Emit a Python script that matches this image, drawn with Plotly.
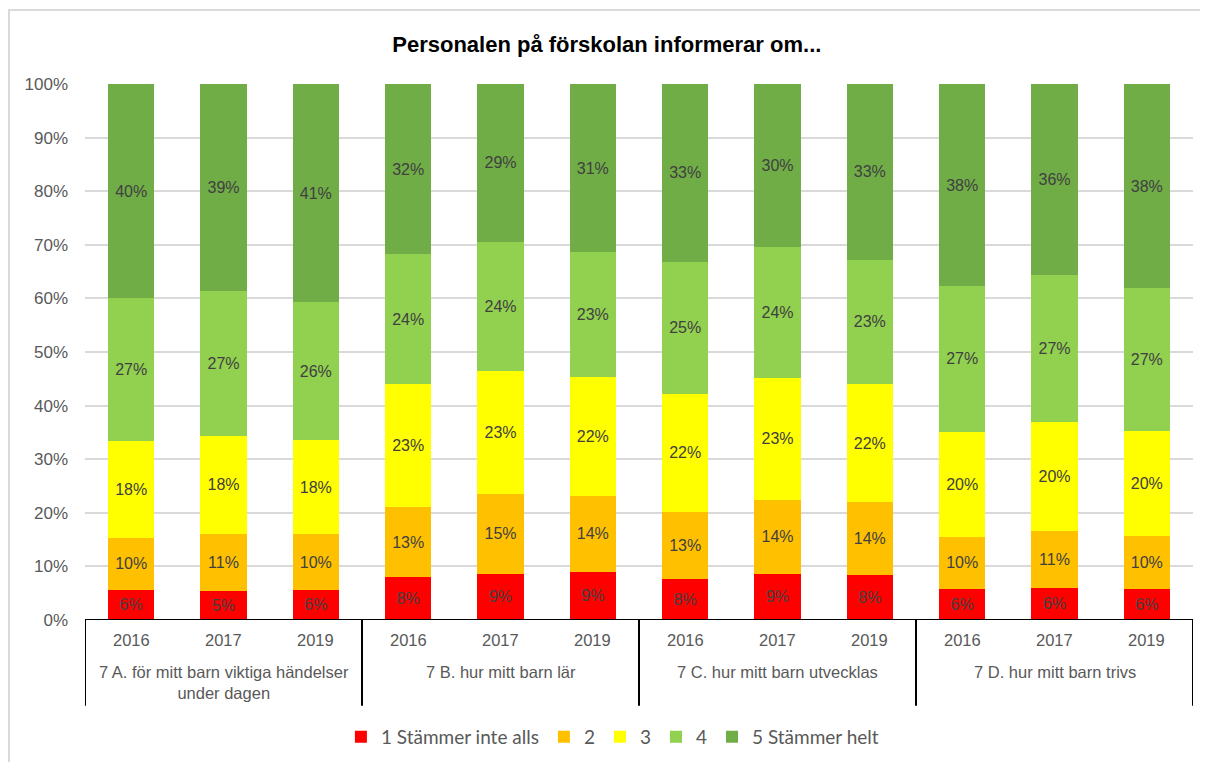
import plotly.graph_objects as go

# groups / years
groups = ["7 A. för mitt barn viktiga händelser<br>under dagen", "7 B. hur mitt barn lär",
          "7 C. hur mitt barn utvecklas", "7 D. hur mitt barn trivs"]
years = ["2016", "2017", "2019"]

series_names = ["1 Stämmer inte alls", "2", "3", "4", "5 Stämmer helt"]
colors = ["#FF0000", "#FFC000", "#FFFF00", "#92D050", "#70AD47"]

# share per bar (A2016, A2017, A2019, B2016, ... D2019), in %
s1 = [5.6, 5.4, 5.6, 8.0, 8.6, 9.0, 7.6, 8.6, 8.4, 5.8, 6.0, 5.8]
s2 = [9.7, 10.6, 10.4, 13.1, 14.9, 14.1, 12.6, 13.8, 13.6, 9.7, 10.6, 9.9]
s3 = [18.1, 18.4, 17.6, 22.9, 23.0, 22.2, 22.0, 22.8, 22.0, 19.6, 20.3, 19.6]
s4 = [26.6, 27.0, 25.7, 24.2, 24.1, 23.3, 24.6, 24.4, 23.2, 27.2, 27.4, 26.6]
s5 = [40.0, 38.6, 40.7, 31.8, 29.4, 31.4, 33.2, 30.4, 32.8, 37.7, 35.7, 38.1]
series = [s1, s2, s3, s4, s5]

gray = "#595959"
font = "Arial, Liberation Sans, sans-serif"
xpos = list(range(len(groups) * len(years)))

fig = go.Figure()
for name, vals, c in zip(series_names, series, colors):
    fig.add_trace(go.Bar(
        x=xpos, y=[v / 100 for v in vals], name=name, width=0.5,
        marker=dict(color=c, line=dict(width=0)),
        text=[f"{round(v)}%" for v in vals], textposition="inside",
        insidetextanchor="middle", constraintext="none", textangle=0,
        textfont=dict(family=font, size=16, color="#404040"),
        hoverinfo="skip",
    ))

annotations = []
for i, x in enumerate(xpos):
    annotations.append(dict(x=x, y=-0.0373, xref="x", yref="paper", text=years[i % 3],
                            yanchor="middle", showarrow=False,
                            font=dict(family=font, size=16.5, color=gray)))
for g, name in enumerate(groups):
    annotations.append(dict(x=g * 3 + 1, y=-0.077, xref="x", yref="paper", text=name,
                            yanchor="top", showarrow=False,
                            font=dict(family=font, size=16.5, color=gray)))

shapes = [dict(type="line", xref="x", yref="y", x0=-0.5, x1=11.5, y0=0, y1=0,
               line=dict(color="black", width=2))]
for xb in [-0.5, 2.5, 5.5, 8.5, 11.5]:
    shapes.append(dict(type="line", xref="x", yref="paper", x0=xb, x1=xb, y0=0, y1=-0.16,
                       line=dict(color="black", width=2)))
# outer chart frame (only the top and left edges are inside the picture)
shapes.append(dict(type="rect", xref="paper", yref="paper", x0=-0.0686, x1=1.12,
                   y0=-0.3, y1=1.138, line=dict(color="#D9D9D9", width=2)))

fig.update_layout(
    barmode="stack",
    width=1200, height=754,
    margin=dict(l=77, r=15, t=76, b=142, autoexpand=False),
    paper_bgcolor="white", plot_bgcolor="white",
    title=dict(text="<b>Personalen på förskolan informerar om...</b>", x=0.499, xref="container",
               y=1 - 36 / 754, yanchor="middle", font=dict(family=font, size=22, color="black")),
    xaxis=dict(range=[-0.5, 11.5], showticklabels=False, showgrid=False, zeroline=False,
               ticks="", fixedrange=True),
    yaxis=dict(range=[0, 1], dtick=0.1, tickformat=".0%", gridcolor="#D9D9D9", gridwidth=1.5,
               zeroline=False, showline=False, ticklabelstandoff=16,
               tickfont=dict(family=font, size=17, color=gray)),
    legend=dict(orientation="h", x=0.476, xanchor="center", y=-0.218, yanchor="middle",
                traceorder="normal", font=dict(family="Lato, Open Sans, sans-serif", size=19, color=gray)),
    annotations=annotations,
    shapes=shapes,
    showlegend=True,
)

fig.write_html("out.html")
